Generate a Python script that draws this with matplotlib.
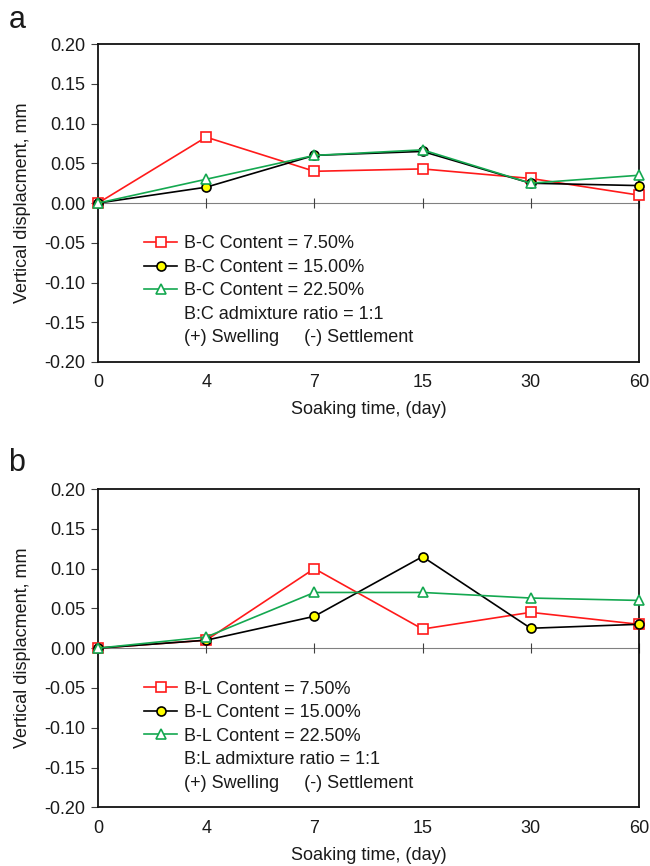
import matplotlib
matplotlib.use("Agg")
import matplotlib.pyplot as plt
from matplotlib.lines import Line2D
import numpy as np

plt.rcParams['font.family'] = ['Liberation Sans', 'DejaVu Sans']

days = ["0", "4", "7", "15", "30", "60"]

# panel a: B-C mixtures
bc_750 = [0.000, 0.083, 0.040, 0.043, 0.031, 0.010]
bc_1500 = [0.000, 0.020, 0.060, 0.065, 0.025, 0.022]
bc_2250 = [0.000, 0.030, 0.060, 0.067, 0.025, 0.035]

# panel b: B-L mixtures
bl_750 = [0.000, 0.010, 0.100, 0.024, 0.045, 0.030]
bl_1500 = [0.000, 0.010, 0.040, 0.115, 0.025, 0.030]
bl_2250 = [0.000, 0.014, 0.070, 0.070, 0.063, 0.060]

RED = "#ff1a1a"
GREEN = "#14a850"
TXT = "#1a1a1a"
FS = 13


def draw_panel(ax, series, prefix, ratio_text):
    x = np.arange(len(days))
    ax.axhline(0, color="#808080", lw=0.8, zorder=1)
    ax.plot(x, np.zeros(len(x)), ls="none", marker="|", ms=7.5, mew=0.8,
            color="#404040", zorder=1, clip_on=False)

    styles = [
        dict(color=RED, marker="s", mfc="white", mec=RED, ms=7.5),
        dict(color="black", marker="o", mfc="#ffff00", mec="black", ms=6.5),
        dict(color=GREEN, marker="^", mfc="white", mec=GREEN, ms=7.5),
    ]
    labels = ["7.50%", "15.00%", "22.50%"]
    handles = []
    for vals, st, lab in zip(series, styles, labels):
        h, = ax.plot(x, vals, lw=1.2, mew=1.2, clip_on=False, zorder=3,
                     label=f"{prefix} Content = {lab}", **st)
        handles.append(h)

    blank = Line2D([], [], ls="none")
    handles += [blank, blank]
    names = [h.get_label() for h in handles[:3]] + [ratio_text, "(+) Swelling     (-) Settlement"]
    leg = ax.legend(handles, names, loc="upper left", bbox_to_anchor=(0.085, 0.398),
                    frameon=False, fontsize=FS, handlelength=1.85, handletextpad=0.35,
                    labelspacing=0.36, borderpad=0, borderaxespad=0)
    for t in leg.get_texts():
        t.set_color(TXT)

    yt = np.round(np.arange(-0.20, 0.201, 0.05), 2)
    ax.set_xlim(0, len(days) - 1)
    ax.set_ylim(-0.20, 0.20)
    ax.set_yticks(yt)
    ax.set_yticklabels([f"{v + 0.0:.2f}".replace("-0.00", "0.00") for v in yt])
    ax.set_xticks(x)
    ax.set_xticklabels(days)
    ax.tick_params(axis="x", length=0, pad=9, labelsize=FS, labelcolor=TXT)
    ax.tick_params(axis="y", direction="out", length=5, width=0.8, pad=4,
                   labelsize=FS, labelcolor=TXT, color="#404040")
    for s in ax.spines.values():
        s.set_linewidth(1.3)
        s.set_color("#111111")
    ax.set_xlabel("Soaking time, (day)", fontsize=FS, color=TXT, labelpad=7)
    ax.set_ylabel("Vertical displacment, mm", fontsize=FS, color=TXT, labelpad=10)


fig = plt.figure(figsize=(6.5, 8.66), dpi=100)
ax_a = fig.add_axes([0.1508, 0.582, 0.832, 0.367])
ax_b = fig.add_axes([0.1508, 0.0678, 0.832, 0.3675])

draw_panel(ax_a, [bc_750, bc_1500, bc_2250], "B-C", "B:C admixture ratio = 1:1")
draw_panel(ax_b, [bl_750, bl_1500, bl_2250], "B-L", "B:L admixture ratio = 1:1")

fig.text(0.013, 0.977, "a", fontsize=22, color=TXT, va="center")
fig.text(0.013, 0.465, "b", fontsize=22, color=TXT, va="center")

fig.savefig("out.png", dpi=100)
